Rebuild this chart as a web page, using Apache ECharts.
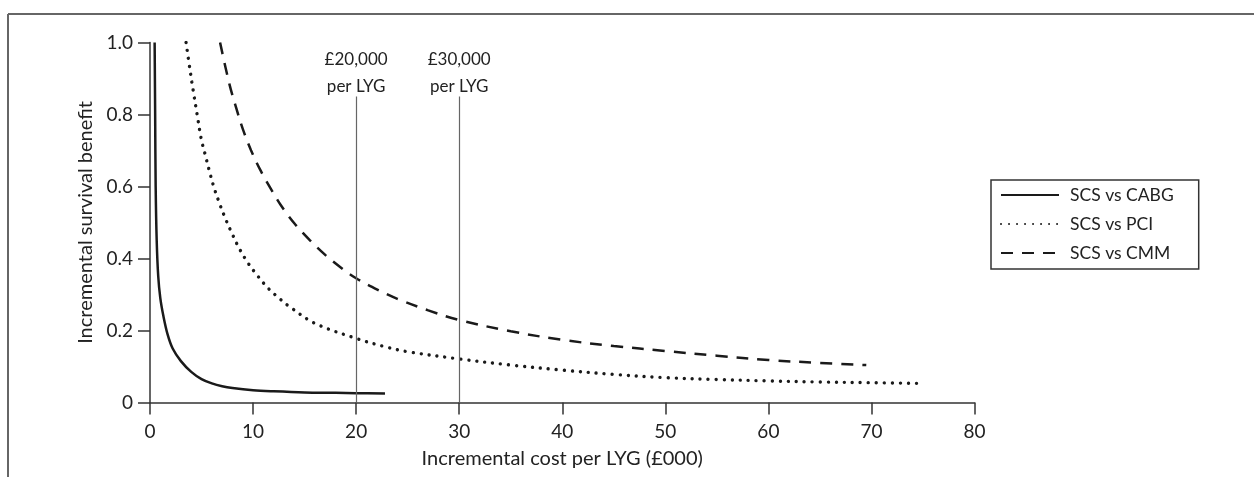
<!DOCTYPE html>
<html>
<head>
<meta charset="utf-8">
<script src="https://cdn.jsdelivr.net/npm/echarts@6/dist/echarts.min.js"></script>
<style>html,body{margin:0;padding:0;background:#fff}#c{width:1254px;height:477px}</style>
</head>
<body>
<div id="c"></div>
<script>
const seriesNames = ['SCS vs CABG', 'SCS vs PCI', 'SCS vs CMM'];
const cabg = [[0.45,1.0],[0.5,0.8],[0.55,0.6],[0.65,0.45],[0.8,0.35],[1.0,0.29],[1.3,0.24],[1.7,0.19],[2.2,0.15],[3.0,0.115],[4.0,0.085],[5,0.065],[6,0.053],[7,0.045],[8,0.04],[10,0.034],[12,0.031],[15,0.028],[18,0.027],[20,0.026],[22.8,0.025]];
const pci = [[3.5,1.0],[3.85,0.93],[4.2,0.865],[4.6,0.795],[4.97,0.732],[5.36,0.688],[5.78,0.641],[6.2,0.598],[6.72,0.555],[7.3,0.512],[7.95,0.47],[8.66,0.428],[9.5,0.388],[10.44,0.352],[11.48,0.317],[12.64,0.287],[13.5,0.267],[16,0.22],[20,0.178],[22.8,0.155],[25,0.141],[30,0.121],[35,0.104],[40,0.09],[45,0.078],[50,0.069],[55,0.064],[60,0.06],[65,0.057],[70,0.055],[75,0.053]];
const cmm = [[6.8,1.0],[7.7,0.885],[8.4,0.815],[9.0,0.76],[9.8,0.701],[10.7,0.646],[11.7,0.595],[12.7,0.548],[14,0.498],[15.5,0.451],[17,0.41],[18.6,0.373],[20,0.345],[22.1,0.313],[24,0.288],[27,0.256],[30,0.229],[35,0.198],[40,0.174],[45,0.157],[50,0.143],[55,0.13],[60,0.118],[65,0.11],[69.5,0.104]];
const thresholds = [20, 30];
const thresholdLabels = ['£20,000\nper LYG', '£30,000\nper LYG'];
const thresholdTop = 0.85;

const FONT = 'Lato';
const chart = echarts.init(document.getElementById('c'));
chart.setOption({
  animation: false,
  backgroundColor: '#fff',
  textStyle: { fontFamily: FONT, color: '#222' },
  graphic: [
    { type: 'line', shape: { x1: 8, y1: 14, x2: 1254, y2: 14 }, style: { stroke: '#666', lineWidth: 2 } },
    { type: 'line', shape: { x1: 8, y1: 14, x2: 8, y2: 477 }, style: { stroke: '#666', lineWidth: 2 } }
  ],
  grid: { left: 150, right: 279.5, top: 42.5, bottom: 74.5 },
  legend: {
    orient: 'vertical', left: 991, top: 180,
    padding: [6, 25, 7, 9],
    borderColor: '#333', borderWidth: 1.5,
    itemWidth: 58, itemHeight: 14, itemGap: 11,
    itemStyle: { color: 'rgba(0,0,0,0)', borderColor: 'rgba(0,0,0,0)', borderWidth: 0, opacity: 0 },
    textStyle: { fontFamily: FONT, fontSize: 17.5, color: '#222', padding: [0, 0, 0, 6] },
    data: seriesNames
  },
  xAxis: {
    type: 'value', min: 0, max: 80, interval: 10,
    name: 'Incremental cost per LYG (£000)', nameLocation: 'middle', nameGap: 46,
    nameTextStyle: { fontSize: 20, color: '#222', fontFamily: FONT },
    axisLine: { lineStyle: { color: '#333', width: 1.5 } },
    axisTick: { length: 12, lineStyle: { color: '#333', width: 1.5 } },
    axisLabel: { fontSize: 19, color: '#222', margin: 20, fontFamily: FONT },
    splitLine: { show: false }
  },
  yAxis: {
    type: 'value', min: 0, max: 1, interval: 0.2,
    name: 'Incremental survival benefit', nameLocation: 'middle', nameGap: 52,
    nameTextStyle: { fontSize: 20, color: '#222', fontFamily: FONT },
    axisLine: { show: true, lineStyle: { color: '#333', width: 1.5 } },
    axisTick: { show: true, length: 12, lineStyle: { color: '#333', width: 1.5 } },
    axisLabel: { fontSize: 19, color: '#222', margin: 17, fontFamily: FONT,
      formatter: v => v === 0 ? '0' : v.toFixed(1) },
    splitLine: { show: false }
  },
  series: [
    {
      name: seriesNames[0], type: 'line', data: cabg, smooth: 0.35, symbol: 'none',
      lineStyle: { color: '#1a1a1a', width: 2.5 },
      itemStyle: { color: '#1a1a1a' },
      markLine: {
        silent: true, symbol: 'none',
        lineStyle: { color: '#666', width: 1.2, type: 'solid' },
        label: { show: true, position: 'end', formatter: p => p.data.lbl || '', fontSize: 17, lineHeight: 27, color: '#222', fontFamily: FONT, distance: -4 },
        data: thresholds.map((t, i) => [
          { coord: [t, 0], lbl: thresholdLabels[i] },
          { coord: [t, thresholdTop], lbl: thresholdLabels[i] }
        ])
      }
    },
    {
      name: seriesNames[1], type: 'line', data: pci, smooth: 0.35, symbol: 'none',
      lineStyle: { color: '#1a1a1a', width: 3.4, type: [0.01, 8], cap: 'round' },
      itemStyle: { color: '#1a1a1a' }
    },
    {
      name: seriesNames[2], type: 'line', data: cmm, smooth: 0.35, symbol: 'none',
      lineStyle: { color: '#1a1a1a', width: 2.5, type: [12, 9] },
      itemStyle: { color: '#1a1a1a' }
    }
  ]
});
</script>
</body>
</html>
